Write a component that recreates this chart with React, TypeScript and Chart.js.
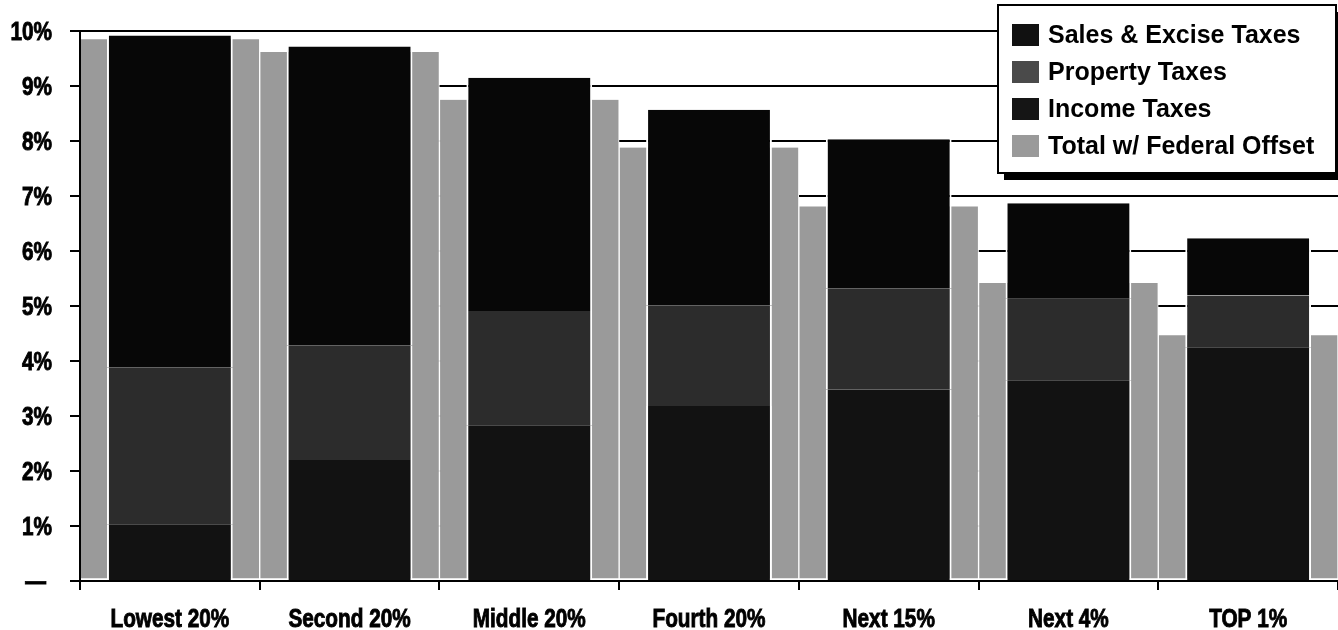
import React, { useEffect, useRef } from 'react';
import { Chart, registerables } from 'chart.js';

Chart.register(...registerables);

const categories = ['Lowest 20%', 'Second 20%', 'Middle 20%', 'Fourth 20%', 'Next 15%', 'Next 4%', 'TOP 1%'];
const incomeTaxes = [1.03, 2.2, 2.83, 3.18, 3.48, 3.65, 4.25];
const propertyTaxes = [2.85, 2.08, 2.08, 1.83, 1.84, 1.48, 0.94];
const salesExciseTaxes = [6.04, 5.44, 4.24, 3.56, 2.71, 1.74, 1.04];
const totalWithFederalOffset = [9.85, 9.62, 8.75, 7.88, 6.81, 5.42, 4.47];
const seriesNames = ['Income Taxes', 'Property Taxes', 'Sales & Excise Taxes', 'Total w/ Federal Offset'];
const legendOrder = ['Sales & Excise Taxes', 'Property Taxes', 'Income Taxes', 'Total w/ Federal Offset'];
const yMin = 0;
const yMax = 10;
const yStep = 1;

const SANS = "'Liberation Sans', Arial, sans-serif";
const NARROW_SCALE = 0.83;

const COLORS: Record<string, string> = {
  'Income Taxes': '#121212',
  'Property Taxes': '#2c2c2c',
  'Sales & Excise Taxes': '#070707',
  'Total w/ Federal Offset': '#9a9a9a',
};
const SWATCH: Record<string, string> = {
  'Income Taxes': '#151515',
  'Property Taxes': '#4a4a4a',
  'Sales & Excise Taxes': '#111111',
  'Total w/ Federal Offset': '#9a9a9a',
};

function drawNarrow(ctx: CanvasRenderingContext2D, text: string, x: number, y: number, align: CanvasTextAlign) {
  ctx.save();
  ctx.translate(x, y);
  ctx.scale(NARROW_SCALE, 1);
  ctx.textAlign = align;
  ctx.textBaseline = 'alphabetic';
  ctx.fillText(text, 0, 0);
  ctx.lineWidth = 0.9;
  ctx.strokeText(text, 0, 0);
  ctx.restore();
}

const narrowTicks = {
  id: 'narrowTicks',
  afterDraw(chart: any) {
    const ctx = chart.ctx as CanvasRenderingContext2D;
    ctx.save();
    ctx.fillStyle = '#000';
    ctx.strokeStyle = '#000';
    ctx.font = `bold 25px ${SANS}`;
    const xs = chart.scales.x;
    xs.ticks.forEach((t: any, i: number) => {
      const px = xs.getPixelForTick(i);
      const label = String(xs.getLabelForValue(t.value));
      drawNarrow(ctx, label, px, chart.chartArea.bottom + 46, 'center');
    });
    const ys = chart.scales.y;
    ys.ticks.forEach((t: any) => {
      const py = ys.getPixelForValue(t.value);
      const label = Number(t.value) === 0 ? '—' : `${t.value}%`;
      const xr = Number(t.value) === 0 ? 46 : 52;
      drawNarrow(ctx, label, xr, py + 9, 'right');
    });
    ctx.restore();
  },
};

const boxLegend = {
  id: 'boxLegend',
  afterDraw(chart: any) {
    const ctx = chart.ctx as CanvasRenderingContext2D;
    const x = 998, y = 5, w = 338, h = 168;
    ctx.save();
    ctx.fillStyle = '#000';
    ctx.fillRect(x + 6, y + 7, w, h);
    ctx.fillStyle = '#fff';
    ctx.fillRect(x, y, w, h);
    ctx.lineWidth = 2;
    ctx.strokeStyle = '#000';
    ctx.strokeRect(x, y, w, h);
    ctx.font = `bold 25px ${SANS}`;
    ctx.textBaseline = 'middle';
    ctx.textAlign = 'left';
    legendOrder.forEach((name, i) => {
      const cy = y + 30 + i * 37;
      ctx.fillStyle = SWATCH[name];
      ctx.fillRect(x + 14, cy - 11, 27, 22);
      ctx.fillStyle = '#000';
      ctx.fillText(name, x + 50, cy + 1);
    });
    ctx.restore();
  },
};

export default function App() {
  const ref = useRef<HTMLCanvasElement | null>(null);

  useEffect(() => {
    document.body.style.margin = '0';
    const canvas = ref.current;
    if (!canvas) return;
    const taxData = [incomeTaxes, propertyTaxes, salesExciseTaxes];
    const datasets: any[] = taxData.map((values, i) => ({
      label: seriesNames[i],
      data: values,
      backgroundColor: COLORS[seriesNames[i]],
      borderColor: '#ffffff',
      borderWidth: { left: 2, right: 2, top: 0, bottom: 0 },
      borderSkipped: false,
      stack: 'tax',
      grouped: false,
      order: 1,
      barPercentage: 0.7,
      categoryPercentage: 1,
    }));
    datasets.push({
      label: seriesNames[3],
      data: totalWithFederalOffset,
      backgroundColor: COLORS[seriesNames[3]],
      borderColor: '#ffffff',
      borderWidth: { left: 1, right: 1, top: 0, bottom: 2 },
      borderSkipped: false,
      stack: 'total',
      grouped: false,
      order: 2,
      barPercentage: 1,
      categoryPercentage: 1,
    });

    const chart = new Chart(canvas, {
      type: 'bar',
      data: { labels: categories, datasets },
      options: {
        animation: false,
        responsive: true,
        maintainAspectRatio: false,
        layout: { padding: { top: 31, right: 0, left: 0, bottom: 0 } },
        plugins: {
          legend: { display: false },
          tooltip: { enabled: false },
        },
        scales: {
          x: {
            stacked: true,
            offset: true,
            grid: {
              display: true,
              offset: true,
              drawOnChartArea: false,
              drawTicks: true,
              tickLength: 9,
              color: '#000',
              lineWidth: 2,
            },
            border: { display: true, color: '#000', width: 2, z: 1 },
            ticks: { display: false, autoSkip: false },
            afterFit: (scale: any) => {
              scale.height = 49;
            },
          },
          y: {
            stacked: true,
            min: yMin,
            max: yMax,
            grid: {
              color: '#000',
              lineWidth: 2,
              drawTicks: true,
              tickLength: 10,
            },
            border: { display: true, color: '#000', width: 2, z: 1 },
            ticks: { display: false, stepSize: yStep },
            afterFit: (scale: any) => {
              scale.width = 80;
            },
          },
        },
      },
      plugins: [narrowTicks, boxLegend],
    });
    return () => chart.destroy();
  }, []);

  return (
    <div style={{ width: 1338, height: 630, position: 'relative', background: '#fff' }}>
      <canvas ref={ref} />
    </div>
  );
}
